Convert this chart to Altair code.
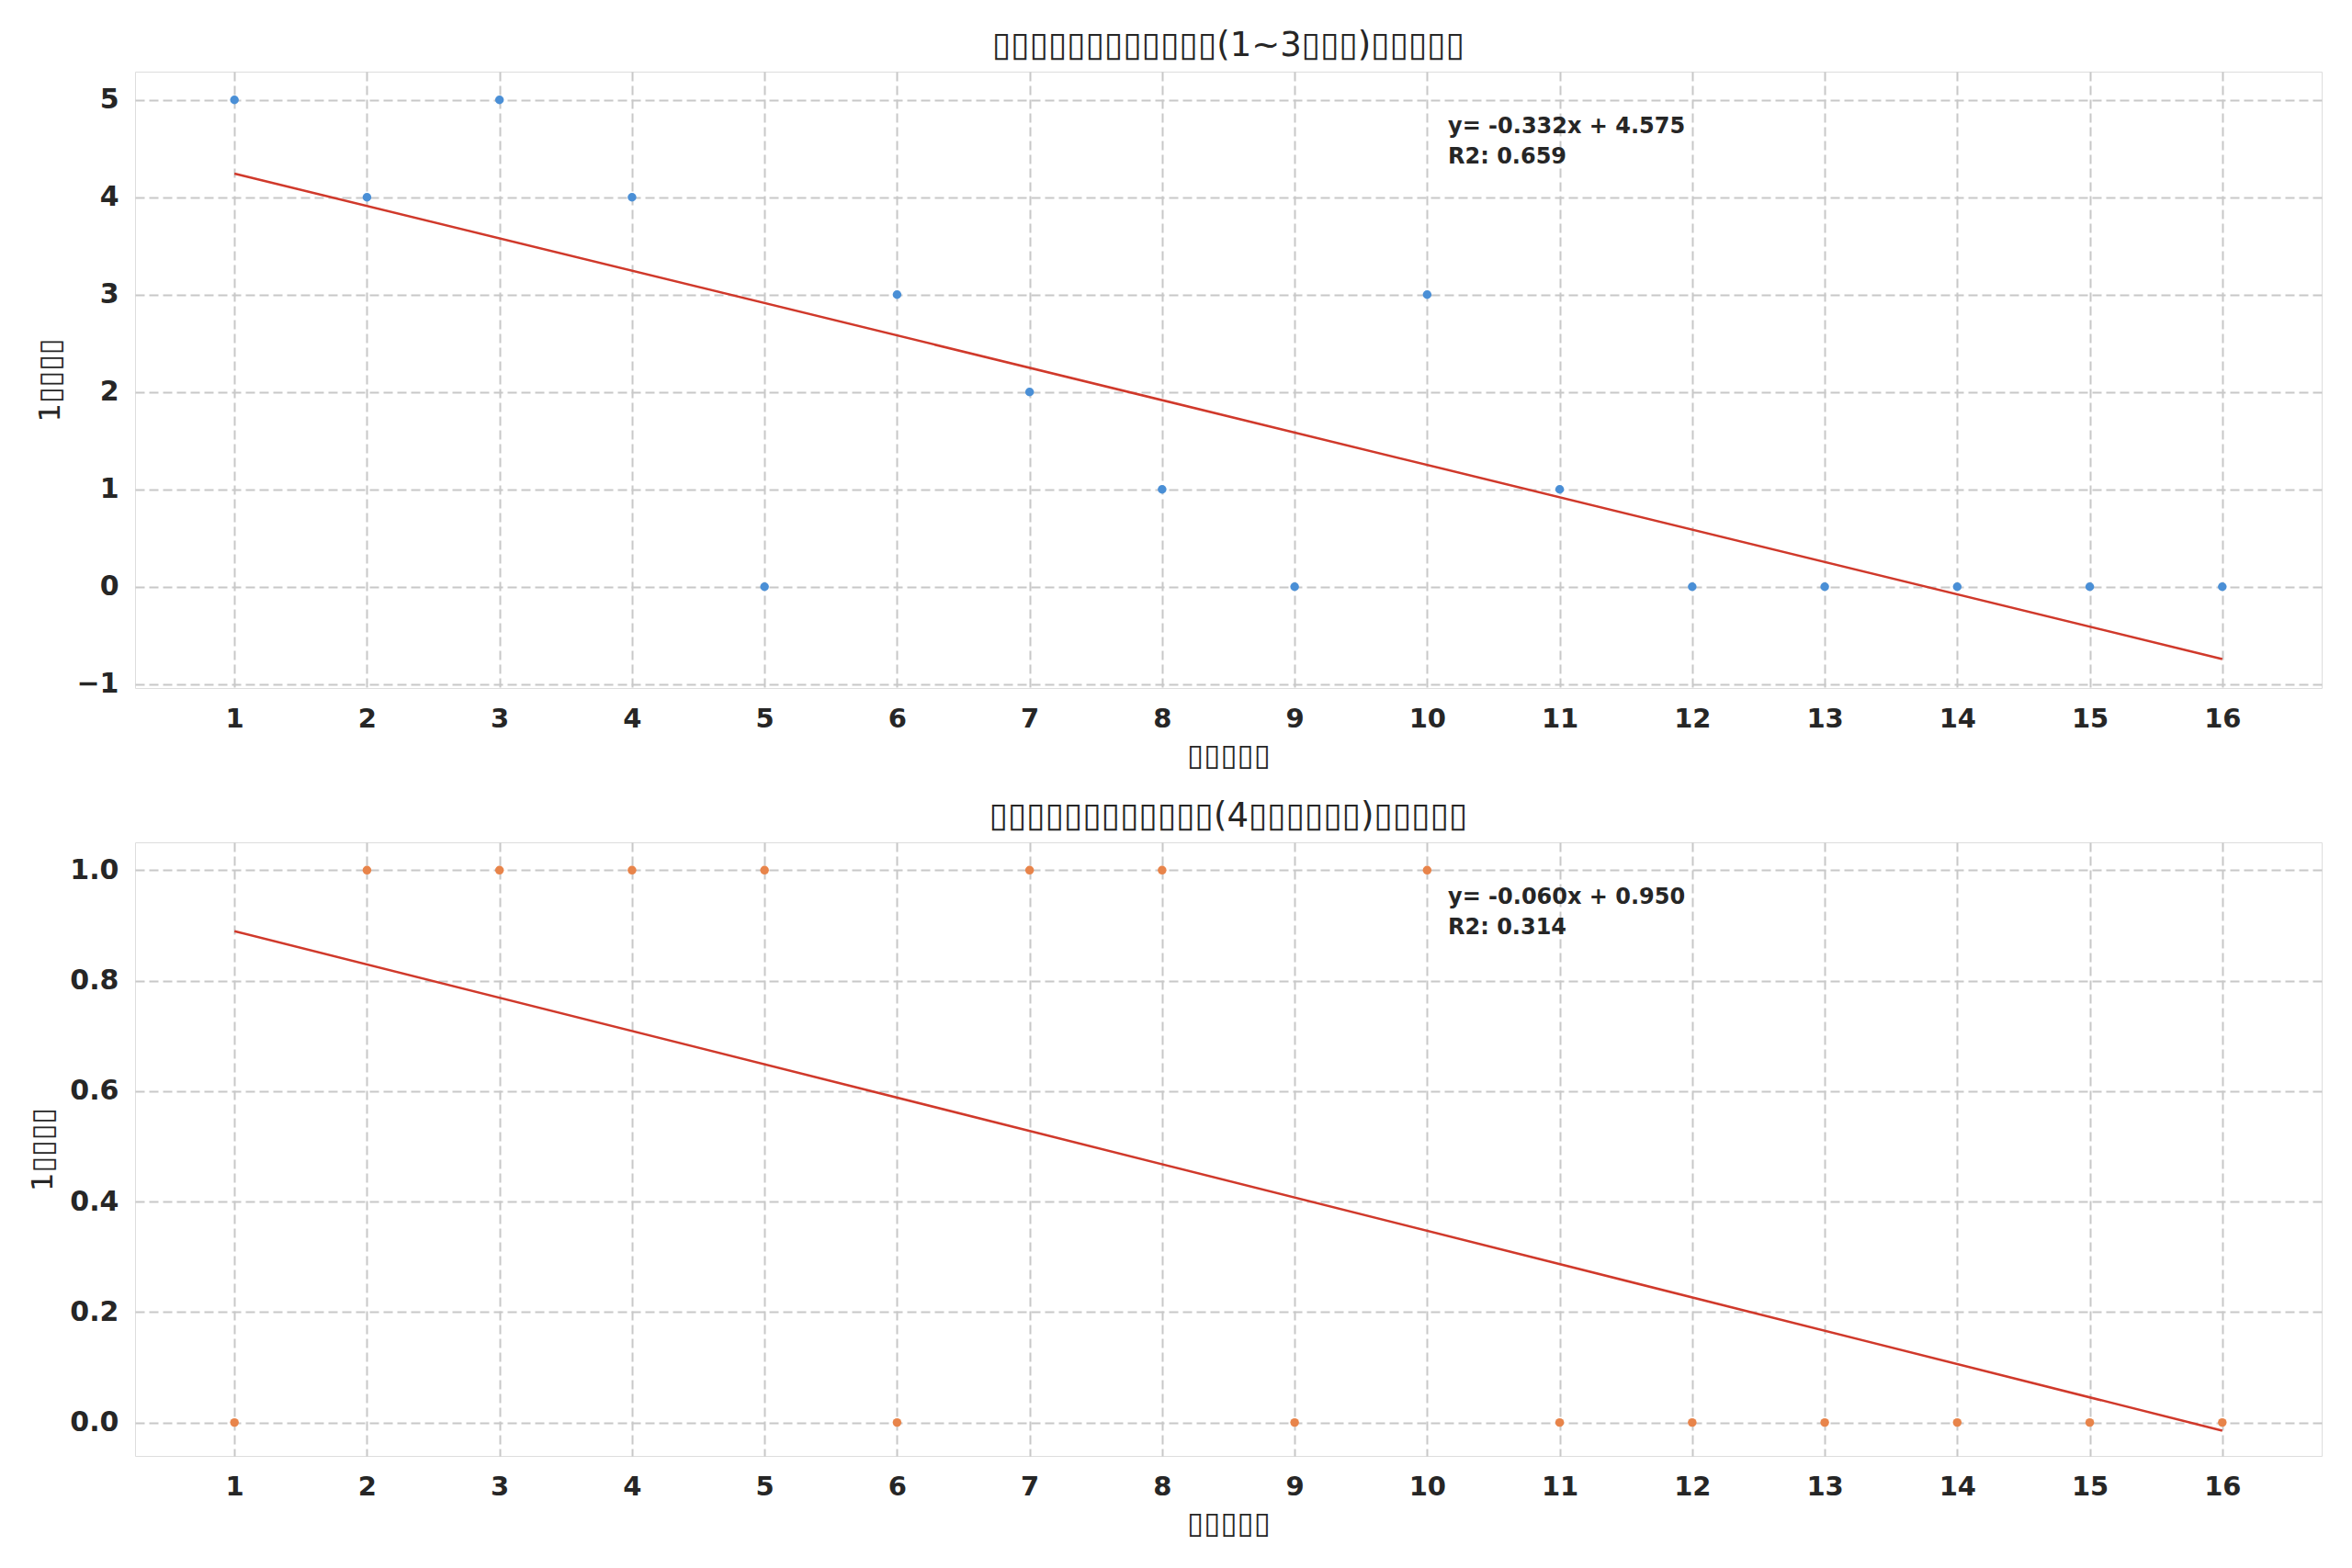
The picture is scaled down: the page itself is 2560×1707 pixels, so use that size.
import altair as alt
import pandas as pd

# ---- data ----
games = list(range(1, 17))
goals_top = [5, 4, 5, 4, 0, 3, 2, 1, 0, 3, 1, 0, 0, 0, 0, 0]
goals_bottom = [0, 1, 1, 1, 1, 0, 1, 1, 0, 1, 0, 0, 0, 0, 0, 0]

B = "▯"
title_top = B * 12 + "(1~3" + B * 3 + ")" + B * 5
title_bottom = B * 12 + "(4" + B * 6 + ")" + B * 5
x_label = B * 5
y_label = "1" + B * 4
ann_top = ["y= -0.332x + 4.575", "R2: 0.659"]
ann_bottom = ["y= -0.060x + 0.950", "R2: 0.314"]
y_ticks_top = [-1, 0, 1, 2, 3, 4, 5]
y_ticks_bottom = [0.0, 0.2, 0.4, 0.6, 0.8, 1.0]

FONT = "DejaVu Sans"
TXT = "#262626"
GRID = "#c8c8c8"
W = 2380


def panel(yvals, color, title, ann, ydomain, yticks, yfmt, height, title_x):
    df = pd.DataFrame({"x": games, "y": yvals})
    base = alt.Chart(df)
    xax = alt.Axis(values=games, format="d", title=x_label, labelFontSize=29,
                   labelFontWeight="bold", labelColor=TXT, titleFontSize=33,
                   titleFontWeight="normal", titleColor=TXT, labelPadding=19, titlePadding=9,
                   ticks=False, tickSize=0, domain=False, grid=True, gridColor=GRID,
                   gridDash=[10, 5], gridWidth=2, labelFont=FONT, titleFont=FONT)
    yax = alt.Axis(values=yticks, format=yfmt, title=y_label, labelFontSize=30,
                   labelFontWeight="bold", labelColor=TXT, titleFontSize=32,
                   titleFontWeight="normal", titleColor=TXT, labelPadding=18,
                   ticks=False, tickSize=0, domain=False, grid=True, gridColor=GRID,
                   gridDash=[10, 5], gridWidth=2, labelFont=FONT, titleFont=FONT,
                   titleX=title_x, titleY=height / 2, titleBaseline="middle", titleAngle=270)
    xenc = alt.X("x:Q", scale=alt.Scale(domain=[0.25, 16.75], nice=False, zero=False), axis=xax)
    yenc = alt.Y("y:Q", scale=alt.Scale(domain=ydomain, nice=False, zero=False), axis=yax)
    pts = base.mark_circle(size=90, opacity=1, color=color).encode(x=xenc, y=yenc)
    reg = base.transform_regression("x", "y").mark_line(color="#d0392b", strokeWidth=2.5).encode(
        x="x:Q", y="y:Q")
    ann_df = pd.DataFrame({"t": ann, "py": [60, 93]})
    txt = alt.Chart(ann_df).mark_text(align="left", baseline="middle", font=FONT, fontSize=24,
                                      fontWeight="bold", color=TXT).encode(
        x=alt.value(1429), y=alt.Y("py:Q", scale=None), text="t:N")
    return alt.layer(pts, reg, txt).properties(
        width=W, height=height,
        title=alt.TitleParams(title, font=FONT, fontSize=37, fontWeight="normal",
                              color=TXT, offset=9))


top = panel(goals_top, "#4a8fd6", title_top, ann_top, [-1.04, 5.29], y_ticks_top, "d", 671, -93)
bottom = panel(goals_bottom, "#e8844a", title_bottom, ann_bottom, [-0.0605, 1.0505],
               y_ticks_bottom, ".1f", 668, -101)

chart = alt.vconcat(top, bottom, spacing=29).properties(
    padding={"top": 22, "left": 21, "right": 5, "bottom": 5}
).configure_view(stroke=GRID, strokeWidth=2.5).configure(background="white")

chart.save("out.html", embed_options={"renderer": "svg", "actions": False})
